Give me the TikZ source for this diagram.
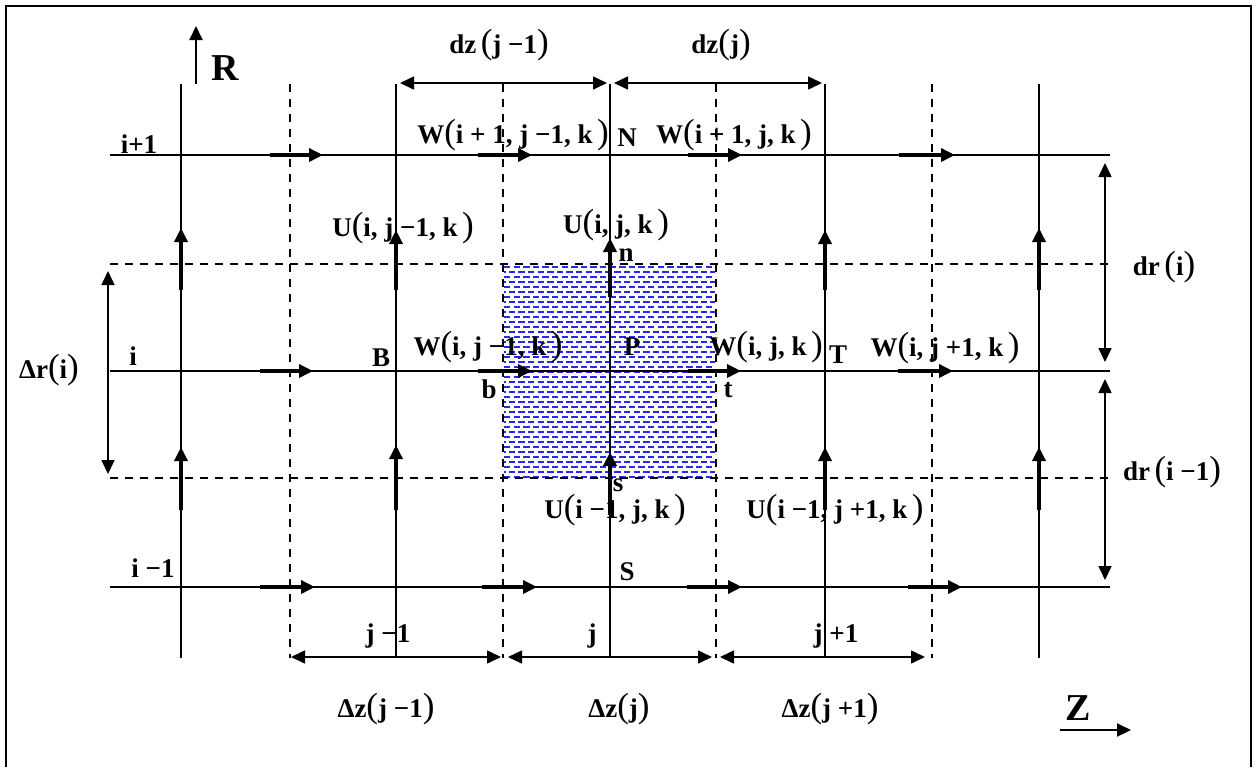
\documentclass[tikz,border=0pt]{standalone}
\usepackage{fontspec}
\setmainfont{Liberation Serif}
\usetikzlibrary{arrows.meta}
\definecolor{patblue}{RGB}{40,40,235}
\newcommand\lp{{\normalfont\fontsize{17.5}{18}\selectfont(}}
\newcommand\rp{{\normalfont\fontsize{17.5}{18}\selectfont)}}
\begin{document}
\begin{tikzpicture}[x=0.5pt,y=-0.5pt,
  every node/.style={inner sep=0pt, anchor=base, font=\fontsize{13.5}{14}\selectfont\bfseries},
  gridline/.style={line width=0.8pt},
  dgridline/.style={line width=0.8pt, dash pattern=on 4pt off 3.5pt},
  patline/.style={patblue, line width=0.8pt, dash pattern=on 3.2pt off 1.6pt},
  flowarrow/.style={line width=1.7pt, -{Triangle[length=7pt,width=6.5pt]}},
  dimarrow/.style={line width=0.8pt, {Triangle[length=7pt,width=6.5pt]}-{Triangle[length=7pt,width=6.5pt]}},
  axisarrow/.style={line width=1pt, -{Triangle[length=7pt,width=6.5pt]}},
  bigsym/.style={font=\fontsize{19}{20}\selectfont\bfseries}
]
\useasboundingbox (0,0) rectangle (1257,767);
% frame
\draw[line width=1.1pt] (6,767) -- (6,6) -- (1251,6) -- (1251,767);

% shaded control volume
\foreach \k in {0,...,42} {
  \pgfmathsetmacro{\yy}{267+\k*5}
  \ifodd\k
    \draw[patline, dash phase=2.4pt] (504,\yy) -- (715,\yy);
  \else
    \draw[patline] (504,\yy) -- (715,\yy);
  \fi
}

% dashed grid
\foreach \x in {290,503,716,932} \draw[dgridline] (\x,84) -- (\x,658);
\foreach \y in {264,478} \draw[dgridline] (110,\y) -- (1110,\y);
% solid grid
\foreach \x in {181,396,610,825,1039} \draw[gridline] (\x,84) -- (\x,658);
\foreach \y in {155,371,587} \draw[gridline] (110,\y) -- (1110,\y);

% W velocity arrows
\foreach \a/\b in {270/323,478/532,688/742,899/955} \draw[flowarrow] (\a,155) -- (\b,155);
\foreach \a/\b in {260/313,478/532,688/741,898/953} \draw[flowarrow] (\a,371) -- (\b,371);
\foreach \a/\b in {260/315,482/537,687/742,908/962} \draw[flowarrow] (\a,587) -- (\b,587);
% U velocity arrows
\foreach \x/\a/\b in {181/290/228,396/290/230,610/297/238,825/290/230,1039/290/228} \draw[flowarrow] (\x,\a) -- (\x,\b);
\foreach \x/\a/\b in {181/510/447,396/510/445,610/515/452,825/510/447,1039/510/447} \draw[flowarrow] (\x,\a) -- (\x,\b);

% dimension arrows
\coordinate (dzA) at (400,83); \coordinate (dzB) at (607,83);
\coordinate (dzC) at (614,83); \coordinate (dzD) at (822,83);
\draw[dimarrow] (dzA) -- (dzB);
\draw[dimarrow] (dzC) -- (dzD);
\coordinate (DzA) at (291,657); \coordinate (DzB) at (501,657);
\coordinate (DzC) at (508,657); \coordinate (DzD) at (712,657);
\coordinate (DzE) at (720,657); \coordinate (DzF) at (925,657);
\draw[dimarrow] (DzA) -- (DzB);
\draw[dimarrow] (DzC) -- (DzD);
\draw[dimarrow] (DzE) -- (DzF);
\coordinate (drA) at (1105,163); \coordinate (drB) at (1105,362);
\coordinate (drC) at (1105,379); \coordinate (drD) at (1105,580);
\draw[dimarrow] (drA) -- (drB);
\draw[dimarrow] (drC) -- (drD);
\coordinate (DrA) at (108,271); \coordinate (DrB) at (108,474);
\draw[dimarrow] (DrA) -- (DrB);

% axes
\coordinate (Rtail) at (196,84); \coordinate (Rtip) at (196,26);
\draw[axisarrow] (Rtail) -- (Rtip);
\coordinate (Ztail) at (1060,730); \coordinate (Ztip) at (1131,730);
\draw[axisarrow] (Ztail) -- (Ztip);
\node[bigsym] (lR) at (225,80) {R};
\node[bigsym] (lZ) at (1078,720) {Z};

% labels
\node (ldzjm) at (499,53) {dz\,\lp j −1\rp};
\node (ldzj) at (721,53) {dz\lp j\rp};
\node (lW1) at (513,143) {W\lp i + 1, j −1, k\,\rp};
\node (lN) at (627,146) {N};
\node (lW2) at (734,143) {W\lp i + 1, j, k\,\rp};
\node (lU1) at (403,236) {U\lp i, j −1, k\,\rp};
\node (lU2) at (616,233) {U\lp i, j, k\,\rp};
\node (ln) at (626,261) {n};
\node (lip) at (139,153) {i+1};
\node (li) at (133,365) {i};
\node (lB) at (381,366) {B};
\node (lW3) at (488,355) {W\lp i, j −1, k\,\rp};
\node (lP) at (632,355) {P};
\node (lW4) at (766,355) {W\lp i, j, k\,\rp};
\node (lT) at (838,363) {T};
\node (lW5) at (945,356) {W\lp i, j +1, k\,\rp};
\node (lb) at (489,398) {b};
\node (lt) at (728,397) {t};
\node (ls) at (618,491) {s};
\node (lU3) at (615,518) {U\lp i −1, j, k\,\rp};
\node (lU4) at (835,518) {U\lp i −1, j +1, k\,\rp};
\node (lS) at (627,580) {S};
\node (lim) at (153,577) {i −1};
\node (ljm) at (388,642) {j −1};
\node (lj) at (592,642) {j};
\node (ljp) at (836,642) {j +1};
\node (lDzjm) at (386,717) {Δz\lp j −1\rp};
\node (lDzj) at (619,717) {Δz\lp j\rp};
\node (lDzjp) at (830,717) {Δz\lp j +1\rp};
\node (ldri) at (1164,275) {dr\,\lp i\rp};
\node (ldrim) at (1172,480) {dr\,\lp i −1\rp};
\node (lDri) at (49,378) {Δr\lp i\rp};
\end{tikzpicture}
\end{document}
